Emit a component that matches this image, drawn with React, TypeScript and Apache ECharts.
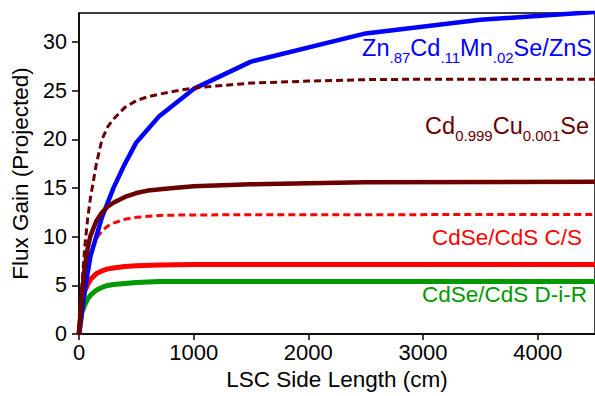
import React, { useEffect, useRef } from "react";
import * as echarts from "echarts";

// Side lengths (cm) and projected flux gains
const xBlue = [0, 50, 100, 200, 300, 400, 500, 700, 1000, 1500, 2500, 3500, 4500];
const yBlue = [0, 4.5, 8, 12, 15, 17.5, 19.7, 22.4, 25.2, 28.0, 30.9, 32.3, 33.1];

const xDarkDash = [0, 25, 50, 75, 100, 150, 200, 250, 300, 400, 500, 600, 800, 1000, 1500, 2000, 2500, 3000, 4500];
const yDarkDash = [0, 5, 8.9, 11.8, 14, 17.4, 20, 21.3, 22.1, 23.3, 24, 24.4, 24.9, 25.3, 25.8, 26.0, 26.15, 26.2, 26.2];

const xDarkSolid = [0, 25, 50, 75, 100, 150, 200, 250, 300, 400, 500, 600, 800, 1000, 1500, 2000, 2500, 4500];
const yDarkSolid = [0, 4, 6.9, 8.8, 10.1, 11.6, 12.5, 13.1, 13.5, 14.1, 14.5, 14.75, 15.0, 15.2, 15.4, 15.5, 15.6, 15.65];

const xRedDash = [0, 25, 50, 75, 100, 150, 200, 250, 300, 400, 500, 700, 1000, 4500];
const yRedDash = [0, 3.5, 6, 7.5, 8.5, 9.8, 10.6, 11.1, 11.4, 11.8, 12.0, 12.2, 12.25, 12.3];

const xRed = [0, 25, 50, 75, 100, 150, 200, 250, 300, 400, 500, 700, 1000, 4500];
const yRed = [0, 3.2, 4.4, 5.1, 5.6, 6.2, 6.5, 6.7, 6.8, 6.95, 7.02, 7.1, 7.15, 7.15];

const xGreen = [0, 25, 50, 75, 100, 150, 200, 250, 300, 400, 500, 700, 4500];
const yGreen = [0, 2.2, 3.0, 3.6, 4.0, 4.5, 4.8, 5.0, 5.1, 5.2, 5.3, 5.4, 5.4];

const xTicks = [0, 1000, 2000, 3000, 4000];
const yTicks = [0, 5, 10, 15, 20, 25, 30];

const BLUE = "#0000ff";
const DARK = "#6b0000";
const RED = "#ff0000";
const GREEN = "#009900";
const FONT = "Liberation Sans, Arial, sans-serif";

const zip = (xs: number[], ys: number[]) => xs.map((x, i) => [x, ys[i]]);

export default function App() {
  const ref = useRef<HTMLDivElement>(null);
  useEffect(() => {
    if (!ref.current) return;
    const chart = echarts.init(ref.current, null, { renderer: "svg" });
    const subStyle = { fontSize: 15, fontFamily: FONT, padding: [14, 0, 0, 0], verticalAlign: "top" as const };
    const mainStyle = { fontSize: 23.5, fontFamily: FONT, lineHeight: 27, verticalAlign: "top" as const };
    const line = (xs: number[], ys: number[], color: string, width: number, dashed: boolean, z: number) => ({
      type: "line",
      data: zip(xs, ys),
      showSymbol: false,
      smooth: false,
      lineStyle: { color, width, type: dashed ? [7, 4] : "solid", cap: "butt", join: "round" },
      z,
    });
    chart.setOption({
      animation: false,
      textStyle: { fontFamily: FONT },
      grid: { left: 79, top: 13, width: 517, height: 325, show: true, borderColor: "#000", borderWidth: 1.5, backgroundColor: "transparent" },
      xAxis: {
        type: "value",
        min: 0,
        max: 4500,
        interval: 1000,
        name: "LSC Side Length (cm)",
        nameLocation: "middle",
        nameGap: 32,
        nameTextStyle: { fontSize: 22.5, color: "#000", fontFamily: FONT },
        axisLine: { show: true, lineStyle: { color: "#000", width: 1.5 } },
        axisTick: { show: true, inside: false, length: 6, lineStyle: { color: "#000", width: 1.5 } },
        axisLabel: {
          color: "#000",
          fontSize: 22,
          fontFamily: FONT,
          margin: 7,
          showMaxLabel: false,
          formatter: (v: number) => (xTicks.includes(v) ? String(v) : ""),
        },
        splitLine: { show: false },
      },
      yAxis: {
        type: "value",
        min: 0,
        max: 33,
        interval: 5,
        name: "Flux Gain (Projected)",
        nameLocation: "middle",
        nameGap: 44,
        nameTextStyle: { fontSize: 22.5, color: "#000", fontFamily: FONT },
        axisLine: { show: true, lineStyle: { color: "#000", width: 1.5 } },
        axisTick: { show: true, inside: false, length: 7, lineStyle: { color: "#000", width: 1.5 } },
        axisLabel: {
          color: "#000",
          fontSize: 21.5,
          fontFamily: FONT,
          margin: 12,
          showMaxLabel: false,
          formatter: (v: number) => (yTicks.includes(v) ? String(v) : ""),
        },
        splitLine: { show: false },
      },
      series: [
        line(xGreen, yGreen, GREEN, 5, false, 2),
        line(xRed, yRed, RED, 5, false, 3),
        line(xRedDash, yRedDash, RED, 3, true, 4),
        line(xBlue, yBlue, BLUE, 4.5, false, 5),
        line(xDarkSolid, yDarkSolid, DARK, 4.5, false, 6),
        line(xDarkDash, yDarkDash, DARK, 3, true, 7),
      ],
      graphic: [
        {
          type: "text",
          right: 3,
          top: 36,
          style: {
            text: "{m|Zn}{s|.87}{m|Cd}{s|.11}{m|Mn}{s|.02}{m|Se/ZnS}",
            fill: BLUE,
            rich: { m: { ...mainStyle, fill: BLUE }, s: { ...subStyle, fill: BLUE } },
          },
        },
        {
          type: "text",
          right: 6,
          top: 114,
          style: {
            text: "{m|Cd}{s|0.999}{m|Cu}{s|0.001}{m|Se}",
            fill: DARK,
            rich: { m: { ...mainStyle, fill: DARK }, s: { ...subStyle, fill: DARK } },
          },
        },
        {
          type: "text",
          right: 13,
          top: 226,
          style: { text: "CdSe/CdS C/S", fill: RED, font: `22.5px ${FONT}` },
        },
        {
          type: "text",
          right: 8,
          top: 283,
          style: { text: "CdSe/CdS D-i-R", fill: GREEN, font: `22.5px ${FONT}` },
        },
      ],
    });
    return () => chart.dispose();
  }, []);
  return <div ref={ref} style={{ width: 595, height: 396, position: "absolute", left: 0, top: 0 }} />;
}
